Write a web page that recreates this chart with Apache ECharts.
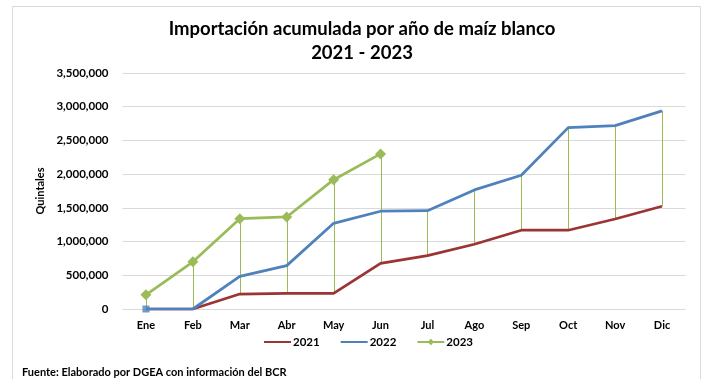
<!DOCTYPE html>
<html>
<head>
<meta charset="utf-8">
<script src="https://cdn.jsdelivr.net/npm/echarts@6/dist/echarts.min.js"></script>
<style>
  html, body { margin: 0; padding: 0; background: #fff; }
  #chart { width: 705px; height: 379px; }
</style>
</head>
<body>
<div id="chart"></div>
<script>
// Cumulative white-maize imports by month (quintales)
const months = ['Ene', 'Feb', 'Mar', 'Abr', 'May', 'Jun', 'Jul', 'Ago', 'Sep', 'Oct', 'Nov', 'Dic'];
const imports2021 = [0, 0, 222000, 233000, 233000, 678000, 791000, 960000, 1168000, 1168000, 1335000, 1524000];
const imports2022 = [0, 0, 485000, 643000, 1271000, 1450000, 1458000, 1766000, 1984000, 2690000, 2720000, 2938000];
const imports2023 = [210000, 700000, 1340000, 1365000, 1918000, 2300000];
const yTicks = { min: 0, max: 3500000, interval: 500000 };

const FONT = 'Lato, "Open Sans", sans-serif';
const colors = { y2021: '#9B3533', y2022: '#4F81BD', y2023: '#9BBB59' };

// High-low connectors: for each month, span from lowest to highest year value
const hiLow = months.map((m, i) => {
  const vals = [imports2021[i], imports2022[i], imports2023[i]].filter(v => v !== undefined);
  return [i, Math.min(...vals), Math.max(...vals)];
});

const chart = echarts.init(document.getElementById('chart'), null, { renderer: 'canvas' });

chart.setOption({
  animation: false,
  textStyle: { fontFamily: FONT },
  title: {
    text: 'Importación acumulada por año de maíz blanco\n2021 - 2023',
    left: 357,
    textAlign: 'center',
    top: 12,
    textStyle: { fontSize: 18.5, fontWeight: 'bold', color: '#000', lineHeight: 24, fontFamily: FONT }
  },
  graphic: [
    {
      type: 'rect',
      shape: { x: 12.5, y: 6.5, width: 688, height: 380 },
      style: { fill: 'none', stroke: '#d9d9d9', lineWidth: 1 },
      silent: true
    },
    {
      type: 'text',
      left: 22,
      top: 367,
      style: {
        text: 'Fuente: Elaborado por DGEA con información del BCR',
        font: 'bold 11px ' + FONT,
        fill: '#000'
      }
    }
  ],
  legend: {
    data: [
      { name: '2021', itemStyle: { opacity: 0 } },
      { name: '2022', itemStyle: { opacity: 0 } },
      { name: '2023' }
    ],
    left: 258,
    top: 331,
    itemWidth: 27,
    itemHeight: 8,
    itemGap: 20,
    textStyle: { fontSize: 11.5, fontWeight: 'bold', color: '#000', fontFamily: FONT, padding: [0, 0, 0, -3] }
  },
  grid: { left: 122.5, right: 19.5, top: 73, bottom: 70 },
  xAxis: {
    type: 'category',
    data: months,
    boundaryGap: true,
    axisLine: { show: false },
    axisTick: { show: false },
    axisLabel: { fontSize: 11, fontWeight: 'bold', color: '#000', margin: 11, fontFamily: FONT }
  },
  yAxis: {
    type: 'value',
    min: yTicks.min,
    max: yTicks.max,
    interval: yTicks.interval,
    name: 'Quintales',
    nameLocation: 'middle',
    nameGap: 76,
    nameRotate: 90,
    nameTextStyle: { fontSize: 11, fontWeight: 'bold', color: '#000', fontFamily: FONT },
    axisLine: { show: false },
    axisTick: { show: false },
    splitLine: { lineStyle: { color: '#d9d9d9', width: 1 } },
    axisLabel: {
      fontSize: 11.5, fontWeight: 'bold', color: '#000', margin: 14, fontFamily: FONT,
      formatter: v => v.toLocaleString('en-US')
    }
  },
  series: [
    {
      name: 'hilo',
      type: 'custom',
      data: hiLow,
      z: 1,
      silent: true,
      renderItem: (params, api) => {
        const a = api.coord([api.value(0), api.value(1)]);
        const b = api.coord([api.value(0), api.value(2)]);
        return {
          type: 'line',
          shape: { x1: Math.round(a[0]) + 0.5, y1: a[1], x2: Math.round(b[0]) + 0.5, y2: b[1] },
          style: { stroke: colors.y2023, lineWidth: 1 }
        };
      }
    },
    {
      name: '2021',
      type: 'line',
      data: imports2021,
      symbol: 'none',
      z: 3,
      lineStyle: { color: colors.y2021, width: 2.75 },
      itemStyle: { color: colors.y2021 }
    },
    {
      name: '2022',
      type: 'line',
      data: imports2022,
      symbol: 'none',
      z: 4,
      lineStyle: { color: colors.y2022, width: 2.75 },
      itemStyle: { color: colors.y2022 }
    },
    {
      name: '2022-start',
      type: 'scatter',
      data: [[0, imports2022[0]]],
      symbol: 'rect',
      symbolSize: 7,
      z: 5,
      itemStyle: { color: colors.y2022 }
    },
    {
      name: '2023',
      type: 'line',
      data: imports2023,
      symbol: 'diamond',
      symbolSize: 11,
      showAllSymbol: true,
      z: 6,
      lineStyle: { color: colors.y2023, width: 2.75 },
      itemStyle: { color: colors.y2023 }
    }
  ]
});
</script>
</body>
</html>
